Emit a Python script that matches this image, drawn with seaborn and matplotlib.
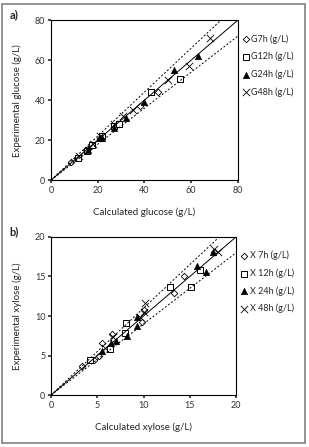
import numpy as np
import pandas as pd
import matplotlib
matplotlib.use('Agg')
import matplotlib.pyplot as plt
import seaborn as sns
from matplotlib.patches import Rectangle

# glucose (calculated, experimental) per time
g7_calc = [8.5, 11, 15, 16, 17, 21, 27, 29, 38, 46]
g7_exp = [9, 11, 15, 15.5, 17, 21, 27, 28, 37, 44]
g12_calc = [11.5, 15.5, 17.5, 22, 27, 29, 43, 55]
g12_exp = [11, 14.5, 17.5, 22, 27, 28, 44, 50.5]
g24_calc = [16, 21, 22, 27, 32, 40, 52.5, 63]
g24_exp = [15, 21, 21, 26, 31, 39, 55, 62]
g48_calc = [12, 18, 21, 27, 31, 35, 50, 59, 68]
g48_exp = [12, 18, 22, 28, 32, 35, 50, 57, 71]

# xylose
x7_calc = [3.3, 4.3, 4.7, 5.2, 5.5, 6.6, 9.8, 10.0, 13.3, 14.4]
x7_exp = [3.7, 4.4, 4.4, 4.9, 6.6, 7.7, 9.3, 10.8, 12.9, 15.0]
x12_calc = [4.2, 6.4, 8.0, 8.1, 12.9, 15.1, 16.1]
x12_exp = [4.4, 5.8, 7.8, 9.1, 13.7, 13.7, 15.8]
x24_calc = [5.5, 6.5, 7.0, 8.2, 9.3, 9.3, 15.8, 16.8, 17.5]
x24_exp = [5.6, 6.6, 6.8, 7.5, 8.8, 9.9, 16.3, 15.6, 18.1]
x48_calc = [5.8, 6.7, 9.6, 10.0, 10.2, 17.6, 18.1]
x48_exp = [5.9, 7.3, 9.9, 10.5, 11.6, 18.5, 18.1]

sns.set_theme(style='white')
plt.rcParams['font.family'] = ['Lato', 'DejaVu Sans']

fig = plt.figure(figsize=(3.09, 4.47), dpi=100)
# single grey frame round the whole figure
fig.patches.append(Rectangle((0.0065, 0.009), 0.981, 0.982, transform=fig.transFigure,
                             fill=False, edgecolor='#808080', linewidth=1.2))

styles = [dict(marker='D', facecolor='white', edgecolor='black', s=11, linewidth=0.6),
          dict(marker='s', facecolor='white', edgecolor='black', s=22, linewidth=0.7),
          dict(marker='^', facecolor='black', edgecolor='black', s=20, linewidth=0.5),
          dict(marker='x', color='black', s=28, linewidth=0.6)]


def panel(ax, series, labels, lim, step, xlabel, ylabel, tag, tag_y):
    line = np.array([0, lim])
    ax.plot(line, line, color='black', lw=0.7)
    ax.plot(line, line * 1.1, color='black', lw=0.7, ls=(0, (2, 2)))
    ax.plot(line, line * 0.9, color='black', lw=0.7, ls=(0, (2, 2)))
    for (xc, ye), lab, st in zip(series, labels, styles):
        df = pd.DataFrame({'calc': xc, 'exp': ye})
        sns.scatterplot(data=df, x='calc', y='exp', ax=ax, label=lab, **st)
    ax.set_xlim(0, lim)
    ax.set_ylim(0, lim)
    ax.set_xticks(np.arange(0, lim + 1, step))
    ax.set_yticks(np.arange(0, lim + 1, step))
    ax.tick_params(axis='both', labelsize=6.5, length=2, direction='out', pad=2,
                   left=True, bottom=True, colors='#333333')
    for sp in ax.spines.values():
        sp.set_color('black')
        sp.set_linewidth(0.8)
    ax.set_xlabel(xlabel, fontsize=7, labelpad=9)
    ax.set_ylabel(ylabel, fontsize=7, labelpad=9)
    ax.legend(loc='upper left', bbox_to_anchor=(0.995, 0.94), frameon=False,
              fontsize=6.5, handletextpad=0.1, labelspacing=0.9, borderaxespad=0.1,
              handlelength=1.0)
    fig.text(0.03, tag_y, tag, fontsize=8, fontweight='bold', va='center')


ax1 = fig.add_axes([0.165, 0.597, 0.605, 0.358])
panel(ax1, [(g7_calc, g7_exp), (g12_calc, g12_exp), (g24_calc, g24_exp), (g48_calc, g48_exp)],
      ['G7h (g/L)', 'G12h (g/L)', 'G24h (g/L)', 'G48h (g/L)'], 80, 20,
      'Calculated glucose (g/L)', 'Experimental glucose (g/L)', 'a)', 1 - 15 / 447)

ax2 = fig.add_axes([0.165, 0.116, 0.599, 0.354])
panel(ax2, [(x7_calc, x7_exp), (x12_calc, x12_exp), (x24_calc, x24_exp), (x48_calc, x48_exp)],
      ['X 7h (g/L)', 'X 12h (g/L)', 'X 24h (g/L)', 'X 48h (g/L)'], 20, 5,
      'Calculated xylose (g/L)', 'Experimental xylose (g/L)', 'b)', 1 - 232 / 447)

plt.savefig('out.png', dpi=100)
